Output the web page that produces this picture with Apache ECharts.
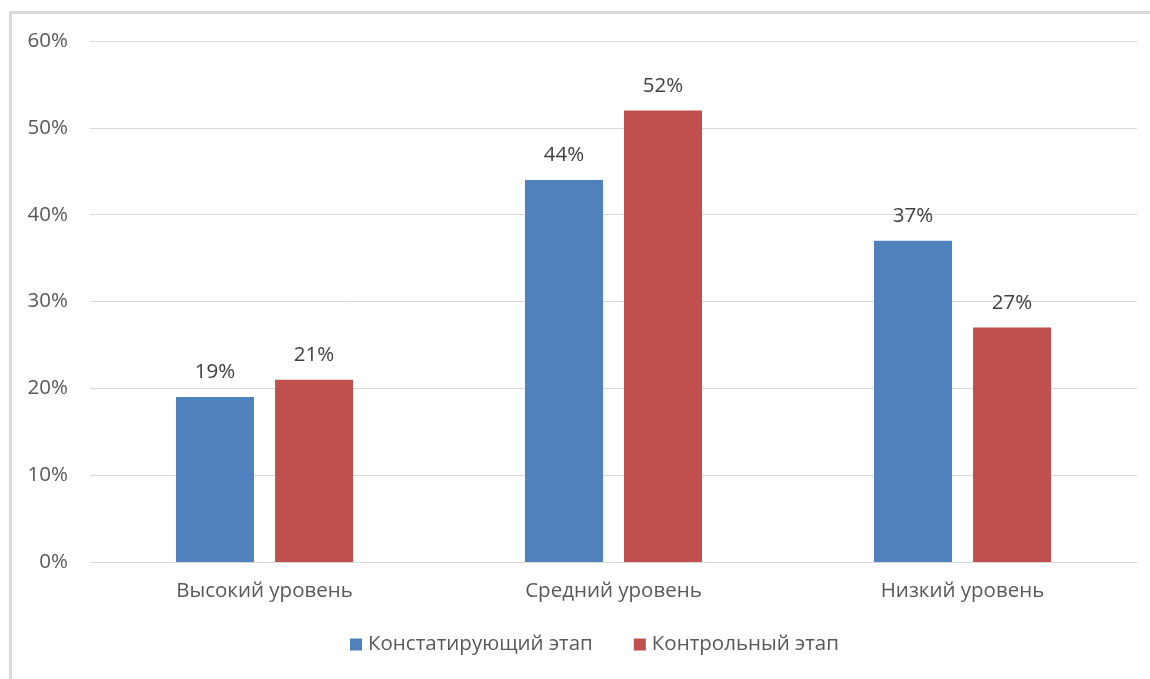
<!DOCTYPE html>
<html><head><meta charset="utf-8">
<script src="https://cdn.jsdelivr.net/npm/echarts@6/dist/echarts.min.js"></script>
<style>html,body{margin:0;padding:0;background:#fff;}#c{width:1150px;height:679px;}</style>
</head><body><div id="c"></div>
<script>
const categories = ['Высокий уровень', 'Средний уровень', 'Низкий уровень'];
const seriesNames = ['Констатирующий этап', 'Контрольный этап'];
const stage1 = [19, 44, 37];
const stage2 = [21, 52, 27];
const FONT = 'Open Sans';
const FS = 20.5;
const chart = echarts.init(document.getElementById('c'));
const lbl = {show: true, position: 'top', distance: 14, formatter: '{c}%', color: '#404040', fontFamily: FONT, fontSize: FS};
chart.setOption({
  animation: false,
  graphic: [{type: 'rect', shape: {x: 10.5, y: 12.5, width: 1160, height: 700}, style: {fill: 'none', stroke: '#d9d9d9', lineWidth: 3}, silent: true}],
  grid: {left: 90, right: 13, top: 41, bottom: 117},
  legend: {bottom: 19, left: 345, itemWidth: 12, itemHeight: 12, itemGap: 41, icon: 'rect',
    textStyle: {color: '#595959', fontFamily: FONT, fontSize: FS, padding: [0, 0, 0, 1]}, data: seriesNames},
  xAxis: {type: 'category', data: categories, axisTick: {show: false},
    axisLine: {lineStyle: {color: '#d9d9d9'}},
    axisLabel: {color: '#595959', fontFamily: FONT, fontSize: FS, margin: 19}},
  yAxis: {type: 'value', min: 0, max: 60, interval: 10,
    axisLabel: {formatter: '{value}%', color: '#595959', fontFamily: FONT, fontSize: FS, margin: 22},
    splitLine: {lineStyle: {color: '#d9d9d9'}}},
  series: [
    {name: seriesNames[0], type: 'bar', data: stage1, barWidth: 78, barGap: '27%', itemStyle: {color: '#4F81BD'}, label: lbl},
    {name: seriesNames[1], type: 'bar', data: stage2, barWidth: 78, itemStyle: {color: '#C0504D'}, label: lbl}
  ]
});
</script></body></html>
